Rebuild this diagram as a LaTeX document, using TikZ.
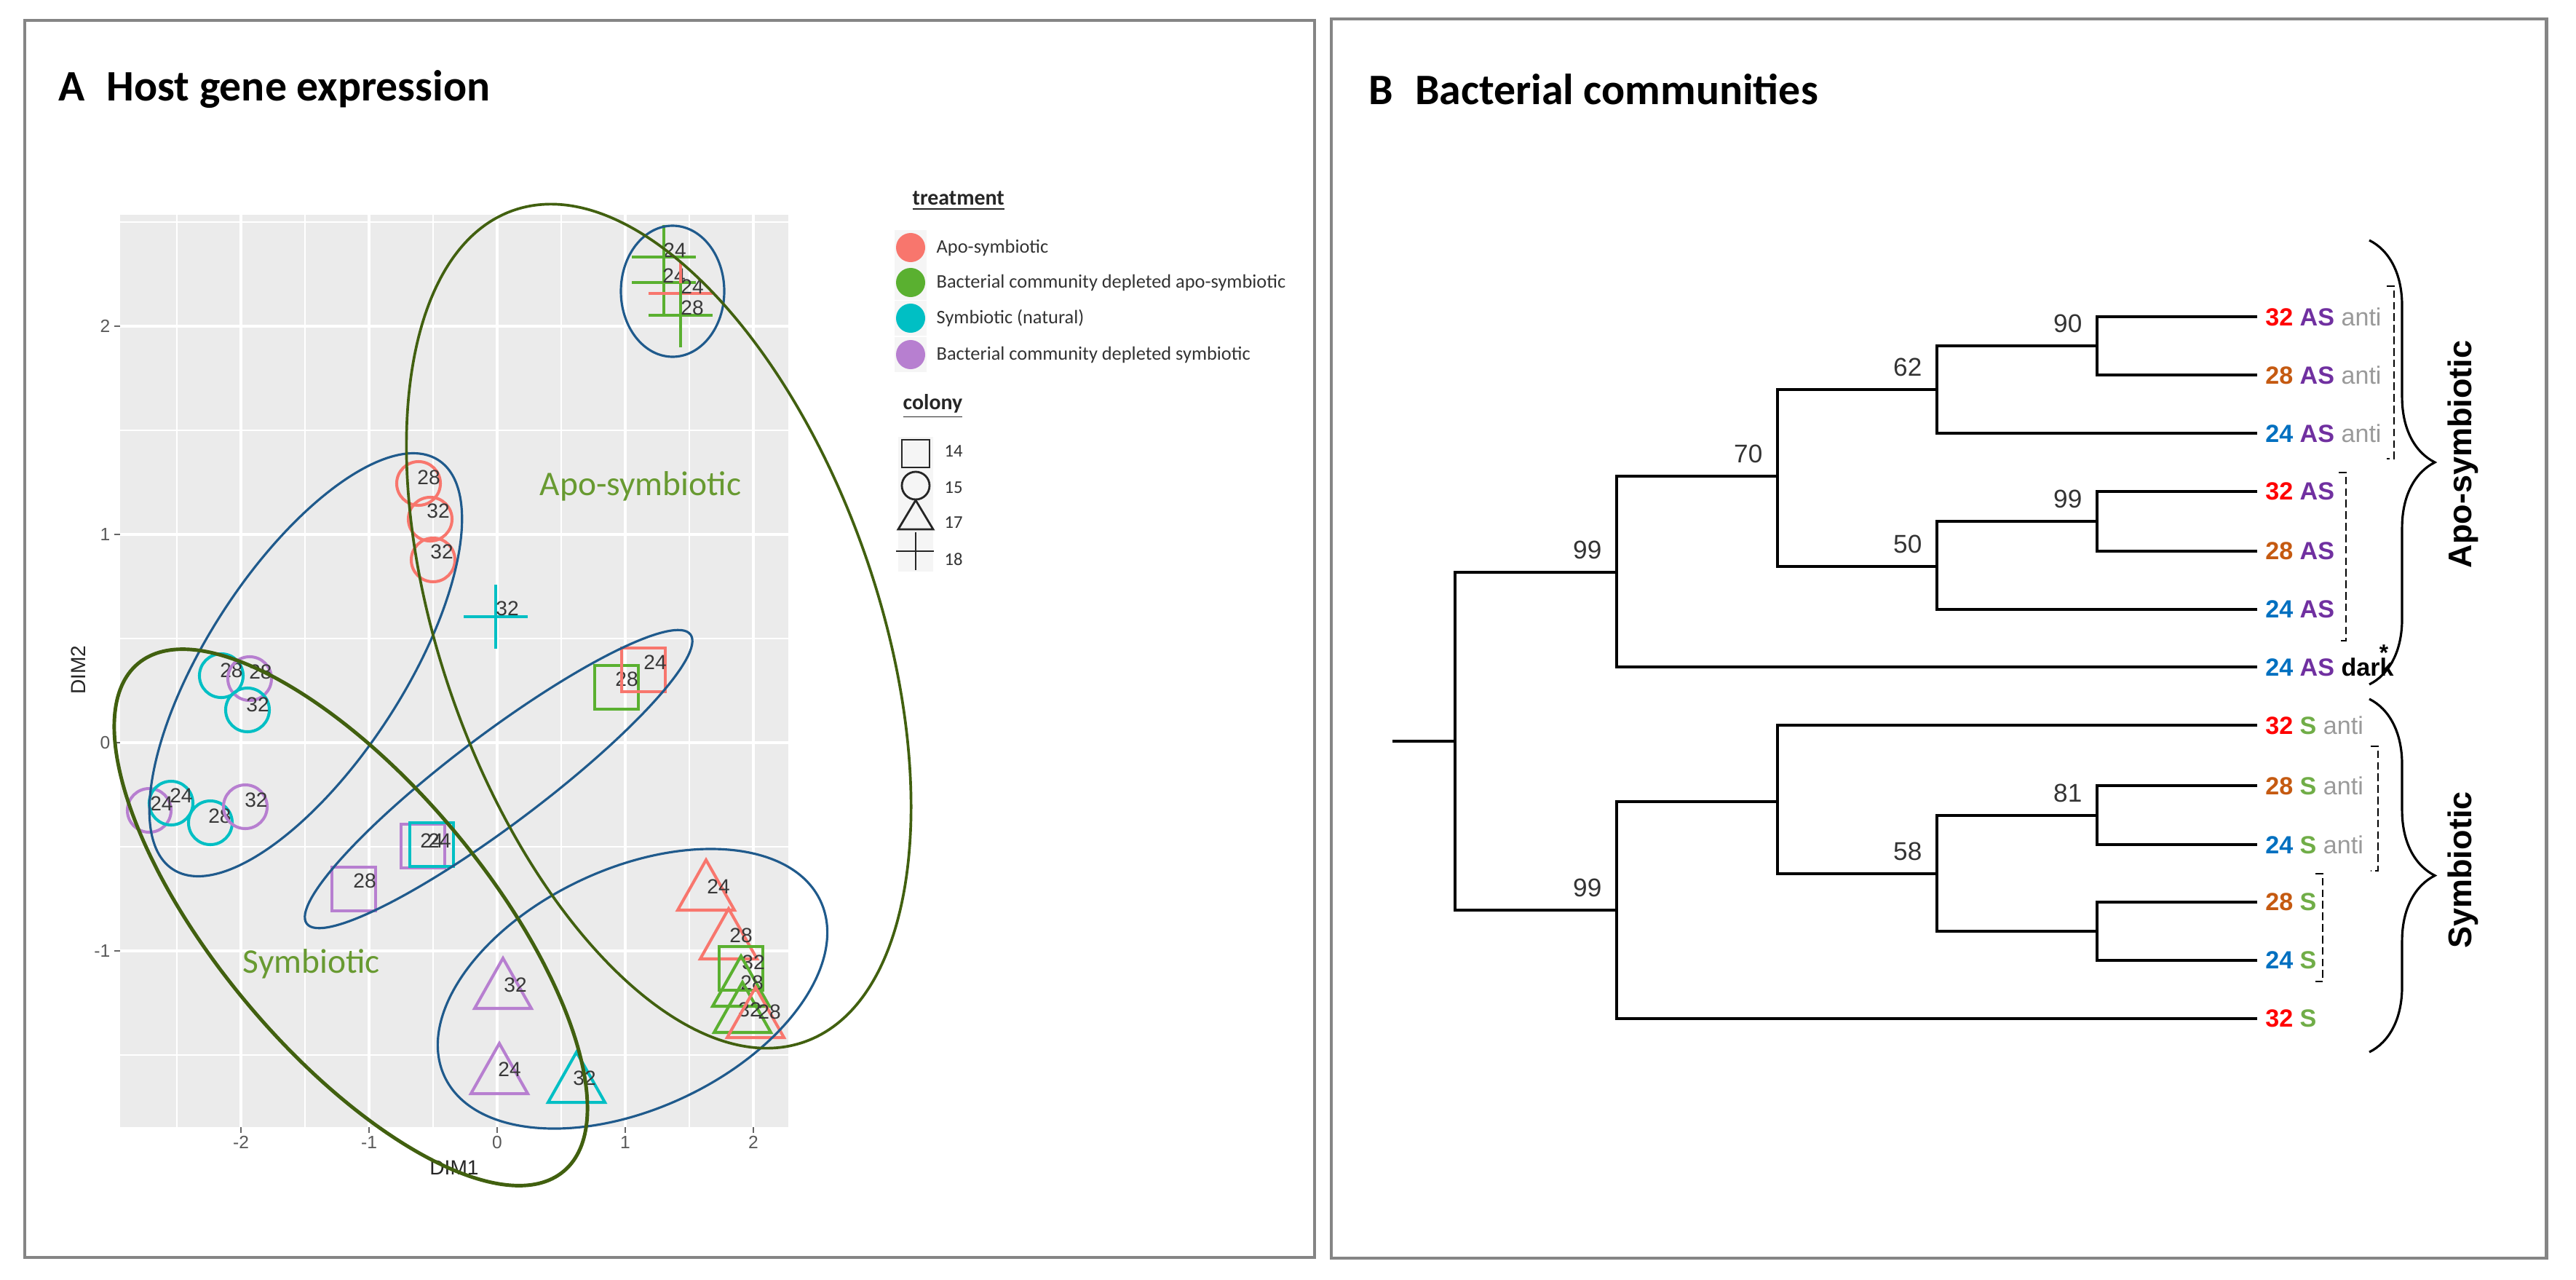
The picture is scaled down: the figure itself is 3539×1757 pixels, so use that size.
\documentclass[tikz,border=0pt]{standalone}
\usepackage{fontspec}
\setmainfont{Carlito}
\newfontfamily\arial{Liberation Sans}
\usetikzlibrary{decorations.pathreplacing}
\definecolor{cA}{HTML}{F8766D}
\definecolor{cB}{HTML}{5AB030}
\definecolor{cC}{HTML}{00BFC4}
\definecolor{cD}{HTML}{B77FD0}
\definecolor{ebl}{HTML}{1F5A8C}
\definecolor{egr}{HTML}{41600F}
\definecolor{tgr}{HTML}{689A31}
\definecolor{frm}{HTML}{858585}
\definecolor{grid}{HTML}{EBEBEB}
\definecolor{r32}{HTML}{FF0000}
\definecolor{o28}{HTML}{C55A11}
\definecolor{b24}{HTML}{0070C0}
\definecolor{pAS}{HTML}{7030A0}
\definecolor{gS}{HTML}{70AD47}
\definecolor{gy}{HTML}{9A9A9A}
\tikzset{
  mk/.style={line width=1.15pt},
  lab/.style={font=\arial\fontsize{8}{9}\selectfont, text=black!78, inner sep=0pt},
  ell/.style={draw=ebl, line width=0.9pt},
  tick/.style={font=\arial\fontsize{7}{8}\selectfont, text=black!65, inner sep=0pt},
  leg/.style={font=\fontsize{7.5}{9}\selectfont, text=black!80, anchor=west, inner sep=0pt},
  br/.style={line width=1.15pt, black},
  leaf/.style={anchor=west, inner sep=3pt, font=\arial\bfseries\fontsize{9.7}{11}\selectfont},
  bs/.style={anchor=south east, inner sep=0pt, font=\arial\fontsize{10}{11}\selectfont, text=black!80},
  dsh/.style={dashed, line width=0.6pt, dash pattern=on 3pt off 1.5pt},
  brc/.style={decorate, decoration={brace, amplitude=0.9cm}, line width=0.9pt}
}
\newcommand\Pc[5]{\draw[mk,draw=#1] (#2,#3) circle (0.3cm);\node[lab] at (#4,#5) {\phantom{}};}
\newcommand\Mc[6]{\draw[mk,draw=#1] (#2,#3) circle (0.3cm);\node[lab] at (#4,#5) {#6};}
\newcommand\Ms[6]{\draw[mk,draw=#1] (#2-30,#3-30) rectangle (#2+30,#3+30);\node[lab] at (#4,#5) {#6};}
\newcommand\Mt[6]{\draw[mk,draw=#1] (#2,#3-46) -- (#2+39,#3+23) -- (#2-39,#3+23) -- cycle;\node[lab] at (#4,#5) {#6};}
\newcommand\Mx[6]{\draw[mk,draw=#1] (#2-44,#3) -- (#2+44,#3) (#2,#3-44) -- (#2,#3+44);\node[lab] at (#4,#5) {#6};}
\begin{document}
\begin{tikzpicture}[x=0.01cm,y=-0.01cm]
\useasboundingbox[fill=white] (0,0) rectangle (3539,1757);
% frames
\draw[frm, line width=1.4pt] (34,28) rectangle (1806,1727);
\draw[frm, line width=1.4pt] (1829,26) rectangle (3498,1728);
\node[anchor=west, inner sep=0pt, font=\bfseries\fontsize{17}{20}\selectfont] (tA) at (80,123) {A\enspace Host gene expression};
\node[anchor=west, inner sep=0pt, font=\bfseries\fontsize{17}{20}\selectfont] (tB) at (1880,123) {B\enspace Bacterial communities};
% plot panel
\fill[grid] (165,295) rectangle (1083,1548);
\foreach \u in {243,419,595,771,947} \draw[white, line width=0.4pt] (\u,295) -- (\u,1548);
\foreach \v in {305,591,877,1163,1449} \draw[white, line width=0.4pt] (165,\v) -- (1083,\v);
\foreach \u in {331,507,683,859,1035} \draw[white, line width=0.9pt] (\u,295) -- (\u,1548);
\foreach \v in {448,734,1020,1306} \draw[white, line width=0.9pt] (165,\v) -- (1083,\v);
\foreach \u/\t in {331/-2,507/-1,683/0,859/1,1035/2} {\draw[black!60, line width=0.6pt] (\u,1548) -- (\u,1556); \node[tick, anchor=north] at (\u,1560) {\t};}
\foreach \v/\t in {448/2,734/1,1020/0,1306/-1} {\draw[black!60, line width=0.6pt] (157,\v) -- (165,\v); \node[tick, anchor=east] at (152,\v) {\t};}
\node[font=\arial\fontsize{8}{9}\selectfont, text=black!85] (dim1) at (624,1604) {DIM1};
\node[font=\arial\fontsize{8}{9}\selectfont, text=black!85, rotate=90] (dim2) at (108,920) {DIM2};
% points
\Mc{cA}{575}{664}{589}{656}{28}
\Mc{cA}{591}{713}{602}{702}{32}
\Mc{cA}{595}{769}{607}{758}{32}
\Mx{cC}{681}{847}{697}{836}{32}
\Ms{cB}{847}{944}{861}{933}{28}
\Ms{cA}{884}{920}{900}{910}{24}
\Mc{cC}{304}{928}{318}{921}{28}
\Mc{cD}{343}{932}{358}{923}{28}
\Mc{cC}{340}{975}{354}{968}{32}
\Mc{cD}{205}{1113}{222}{1104}{24}
\Mc{cC}{235}{1103}{249}{1093}{24}
\Mc{cC}{289}{1130}{302}{1121}{28}
\Mc{cD}{337}{1108}{352}{1099}{32}
\Ms{cD}{486}{1221}{501}{1210}{28}
\Ms{cD}{581}{1162}{593}{1155}{24}
\Ms{cC}{593}{1160}{604}{1155}{24}
\Mt{cA}{970}{1227}{987}{1218}{24}
\Mt{cA}{1001}{1294}{1018}{1285}{28}
\Ms{cB}{1018}{1330}{1035}{1322}{32}
\Mt{cB}{1018}{1359}{1033}{1350}{28}
\Mt{cB}{1020}{1395}{1030}{1387}{32}
\Mt{cA}{1038}{1402}{1057}{1390}{28}
\Mt{cD}{691}{1362}{708}{1353}{32}
\Mt{cD}{686}{1479}{700}{1469}{24}
\Mt{cC}{792}{1491}{803}{1481}{32}
\Mx{cB}{912}{353}{927}{344}{24}
\Mx{cB}{912}{388}{926}{379}{24}
\Mx{cA}{935}{403}{951}{394}{24}
\Mx{cB}{935}{433}{951}{423}{28}
% ellipses
\draw[ell] (924,400) ellipse [x radius=71, y radius=90];
\draw[ell, rotate around={57:(420,913)}] (420,913) ellipse [x radius=335, y radius=135];
\draw[ell, rotate around={37:(685,1070)}] (685,1070) ellipse [x radius=330, y radius=62];
\draw[ell, rotate around={25:(869,1358)}] (869,1358) ellipse [x radius=285, y radius=165];
\draw[draw=egr, line width=1.05pt, rotate around={-70.7:(905,860)}] (905,860) ellipse [x radius=605, y radius=300];
\draw[draw=egr, line width=1.4pt, rotate around={-50:(482,1260)}] (482,1260) ellipse [x radius=455, y radius=185];
\node[font=\fontsize{13.5}{15}\selectfont, text=tgr] (apo) at (880,668) {Apo-symbiotic};
\node[font=\fontsize{13.5}{15}\selectfont, text=tgr] (sym) at (428,1324) {Symbiotic};
% legend
\node[anchor=west, inner sep=0pt, font=\bfseries\fontsize{8.5}{10}\selectfont, text=black!85] (lt) at (1253,276) {\underline{treatment}};
\foreach \y/\c/\t in {340/cA/Apo-symbiotic, 388/cB/Bacterial community depleted apo-symbiotic, 437/cC/Symbiotic (natural), 487/cD/Bacterial community depleted symbiotic} {
  \fill[black!4] (1229,\y-24) rectangle (1273,\y+24);
  \fill[\c] (1251,\y) circle (0.2cm);
  \node[leg] at (1286,\y) {\t};}
\node[anchor=west, inner sep=0pt, font=\bfseries\fontsize{8.5}{10}\selectfont, text=black!85] (lc) at (1240,558) {\underline{colony}};
\fill[black!4] (1234,600) rectangle (1282,785);
\draw[line width=0.8pt, black!85] (1239,604) rectangle (1277,642);
\draw[line width=0.8pt, black!85] (1258,667) circle (0.19cm);
\draw[line width=0.8pt, black!85] (1258,687) -- (1282,727) -- (1234,727) -- cycle;
\draw[line width=0.8pt, black!85] (1231,757) -- (1283,757) (1258,731) -- (1258,783);
\foreach \y/\t in {620/14,670/15,718/17,768/18} \node[leg, font=\fontsize{7}{8}\selectfont] at (1297,\y) {\t};
% tree
\node[leaf] (L1) at (3101,435) {\textcolor{r32}{32} \textcolor{pAS}{AS} \textcolor{gy}{\mdseries anti}};
\node[leaf] (L2) at (3101,515) {\textcolor{o28}{28} \textcolor{pAS}{AS} \textcolor{gy}{\mdseries anti}};
\node[leaf] (L3) at (3101,595) {\textcolor{b24}{24} \textcolor{pAS}{AS} \textcolor{gy}{\mdseries anti}};
\node[leaf] (L4) at (3101,675) {\textcolor{r32}{32} \textcolor{pAS}{AS}};
\node[leaf] (L5) at (3101,757) {\textcolor{o28}{28} \textcolor{pAS}{AS}};
\node[leaf] (L6) at (3101,837) {\textcolor{b24}{24} \textcolor{pAS}{AS}};
\node[leaf] (L7) at (3101,916) {\textcolor{b24}{24} \textcolor{pAS}{AS} dark};
\node[leaf] (L8) at (3101,996) {\textcolor{r32}{32} \textcolor{gS}{S} \textcolor{gy}{\mdseries anti}};
\node[leaf] (L9) at (3101,1079) {\textcolor{o28}{28} \textcolor{gS}{S} \textcolor{gy}{\mdseries anti}};
\node[leaf] (L10) at (3101,1160) {\textcolor{b24}{24} \textcolor{gS}{S} \textcolor{gy}{\mdseries anti}};
\node[leaf] (L11) at (3101,1239) {\textcolor{o28}{28} \textcolor{gS}{S}};
\node[leaf] (L12) at (3101,1319) {\textcolor{b24}{24} \textcolor{gS}{S}};
\node[leaf] (L13) at (3101,1399) {\textcolor{r32}{32} \textcolor{gS}{S}};
\node[inner sep=0pt, font=\arial\bfseries\fontsize{9}{10}\selectfont] (ast) at (3275,897) {*};
\coordinate (n90) at (2881,475);
\coordinate (n99b) at (2881,716);
\coordinate (n62) at (2661,535);
\coordinate (n50) at (2661,778);
\coordinate (n70) at (2442,654);
\coordinate (n99a) at (2221,786);
\coordinate (n81) at (2881,1120);
\coordinate (nP) at (2881,1279);
\coordinate (n58) at (2661,1200);
\coordinate (nU) at (2442,1101);
\coordinate (n99s) at (2221,1250);
\coordinate (root) at (1999,1018);
\coordinate (stub) at (1913,1018);
\draw[br] (L1.west) -| (n90) |- (L2.west);
\draw[br] (n90) -| (n62) |- (L3.west);
\draw[br] (L4.west) -| (n99b) |- (L5.west);
\draw[br] (n99b) -| (n50) |- (L6.west);
\draw[br] (n62) -| (n70) |- (n50);
\draw[br] (n70) -| (n99a) |- (L7.west);
\draw[br] (L9.west) -| (n81) |- (L10.west);
\draw[br] (L11.west) -| (nP) |- (L12.west);
\draw[br] (n81) -| (n58) |- (nP);
\draw[br] (L8.west) -| (nU) |- (n58);
\draw[br] (nU) -| (n99s) |- (L13.west);
\draw[br] (n99a) -| (root) |- (n99s);
\draw[br] (stub) -- (root);
\node[bs] at ([shift={(-20,-17)}]n90) {90};
\node[bs] at ([shift={(-20,-17)}]n62) {62};
\node[bs] at ([shift={(-20,-17)}]n70) {70};
\node[bs] at ([shift={(-20,-17)}]n99a) {99};
\node[bs] at ([shift={(-20,-17)}]n99b) {99};
\node[bs] at ([shift={(-20,-17)}]n50) {50};
\node[bs] at ([shift={(-20,-17)}]n81) {81};
\node[bs] at ([shift={(-20,-17)}]n58) {58};
\node[bs] at ([shift={(-20,-17)}]n99s) {99};
% dashed brackets
\draw[dsh] (3279,393) -- (3289,393) -- (3289,630) -- (3279,630);
\draw[dsh] (3213,649) -- (3223,649) -- (3223,880) -- (3213,880);
\draw[dsh] (3257,1025) -- (3267,1025) -- (3267,1196) -- (3257,1196);
\draw[dsh] (3181,1200) -- (3191,1200) -- (3191,1348) -- (3181,1348);
% braces
\draw[brc] (3255,330) -- (3255,940);
\draw[brc] (3255,960) -- (3255,1445);
\node[rotate=90, font=\arial\bfseries\fontsize{12.8}{14}\selectfont] (gA) at (3384,624) {Apo-symbiotic};
\node[rotate=90, font=\arial\bfseries\fontsize{12.8}{14}\selectfont] (gS) at (3384,1195) {Symbiotic};
\end{tikzpicture}
\end{document}
